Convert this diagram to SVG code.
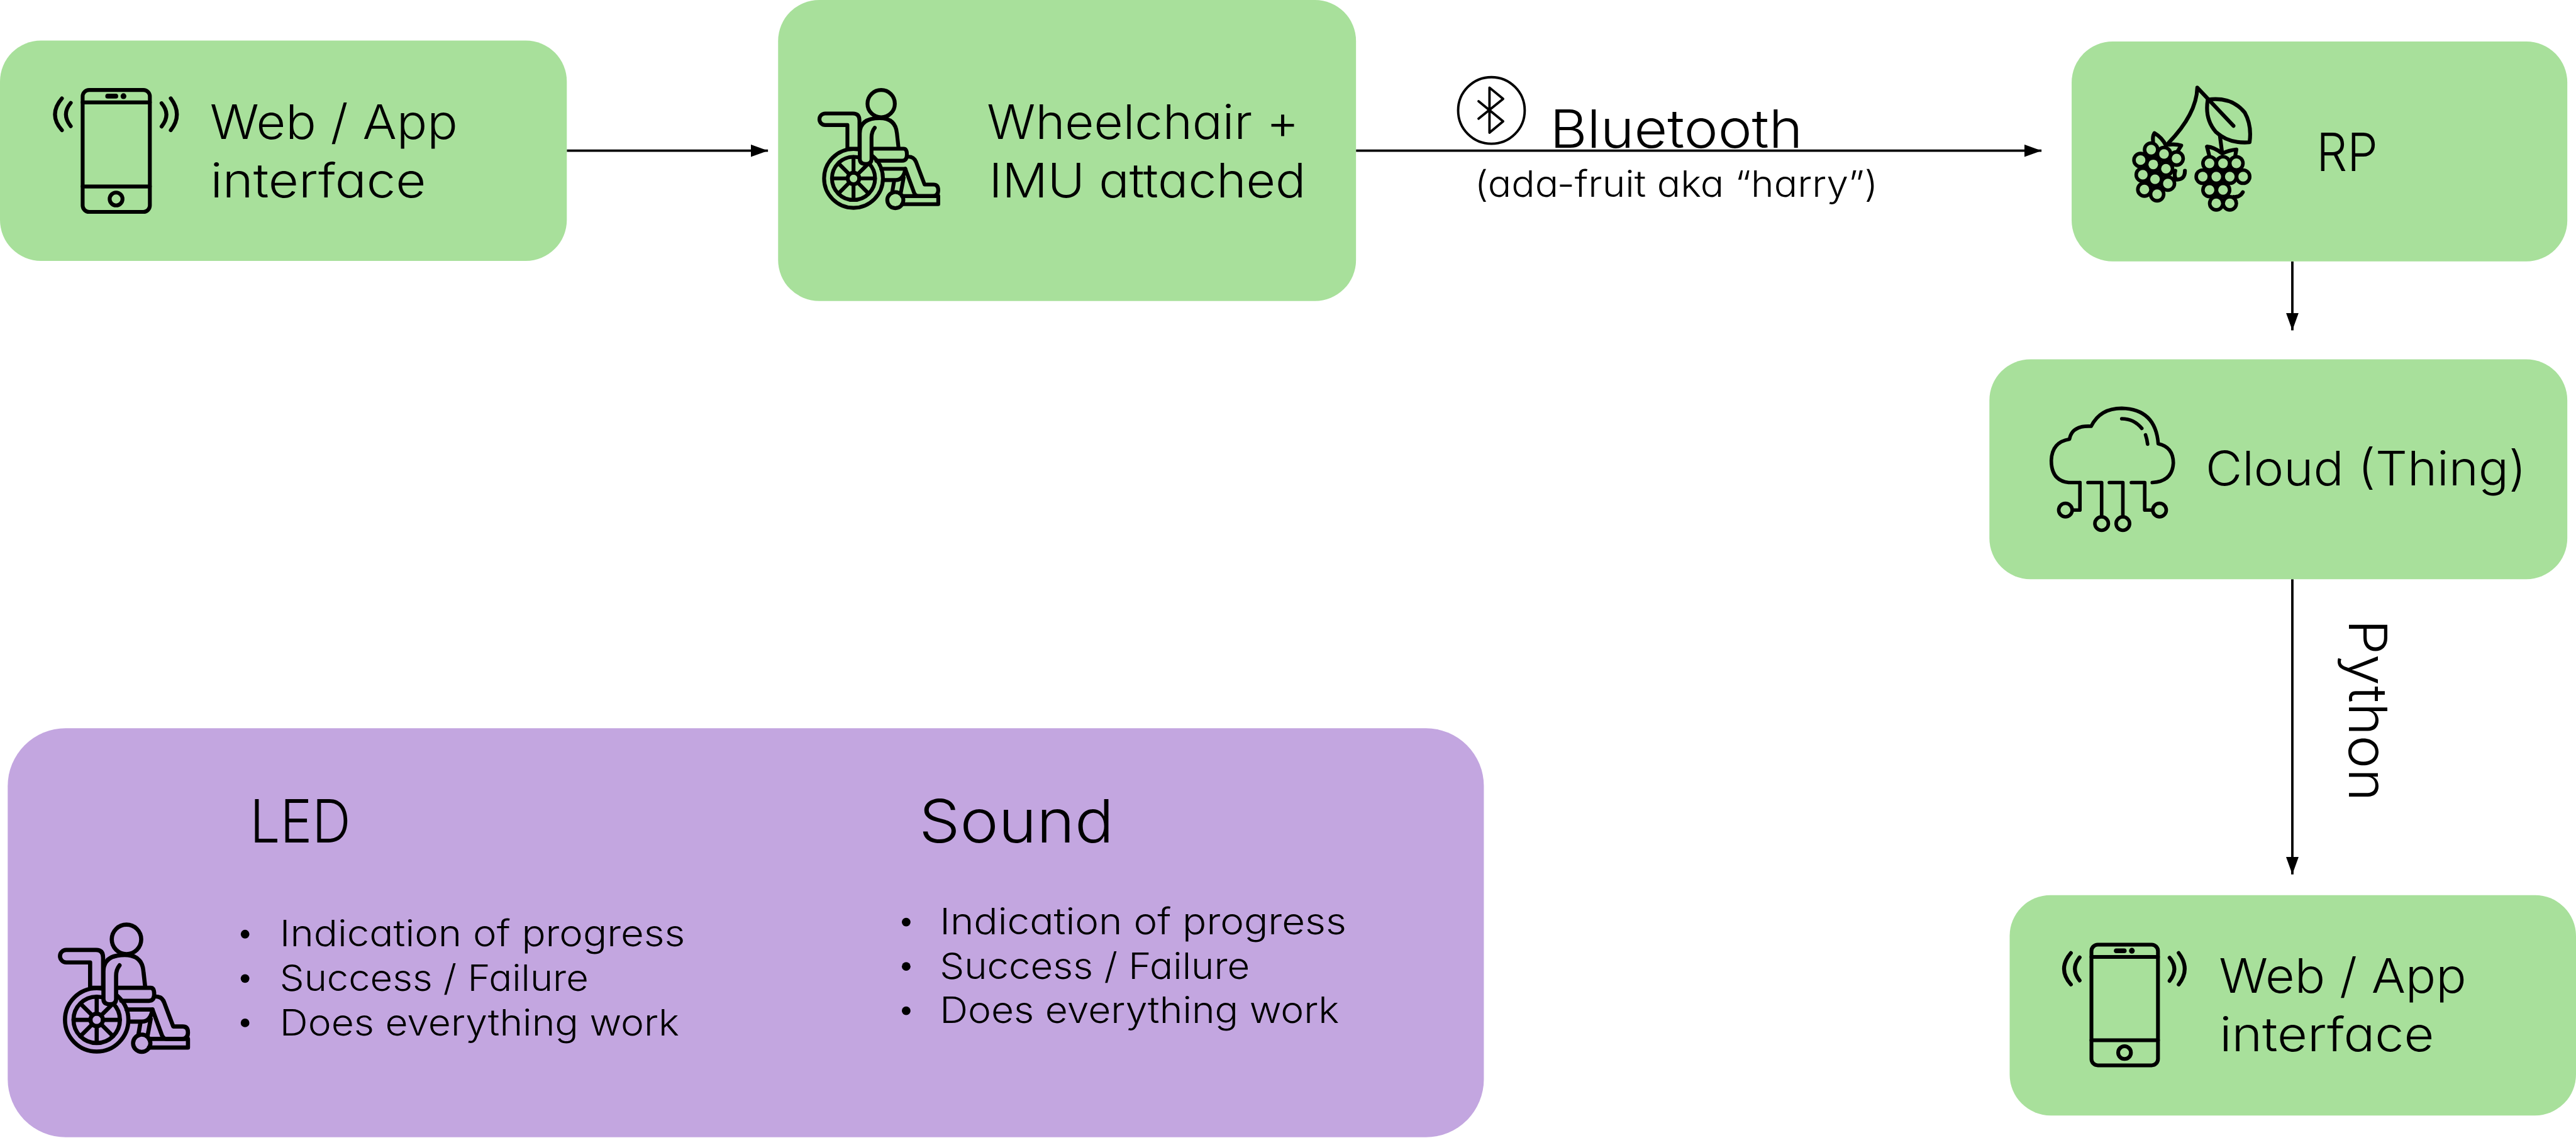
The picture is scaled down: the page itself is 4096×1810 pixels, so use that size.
<svg xmlns="http://www.w3.org/2000/svg" xmlns:xlink="http://www.w3.org/1999/xlink" width="4096" height="1810" viewBox="0 0 4096 1810">
<style>
text{font-family:"Inter","Noto Sans","Liberation Sans",sans-serif;font-weight:300;fill:#000;font-feature-settings:"cv11" 1;}
.green{fill:#A8E09B}
.purple{fill:#C3A6E0}
.t100{font-size:99px}
.t110{font-size:110px}
.t125{font-size:124px}
.t78{font-size:75px}
.ln{fill:none;stroke:#000;stroke-width:5}
.ic{fill:none;stroke:#000;stroke-width:24;stroke-linecap:round;stroke-linejoin:round}
.head{fill:#000;stroke:none}
.blk{fill:#000}
.hole{fill:#A8E09B}
</style>
<defs>
<marker id="arrow" markerUnits="userSpaceOnUse" markerWidth="40" markerHeight="30" refX="36" refY="13" orient="auto"><path d="M0,0L36,13L0,26Z" class="head"/></marker>
<symbol id="phone" overflow="visible" viewBox="0 0 960 900" width="960" height="900">
<rect x="244" y="80" width="418" height="758" rx="40" class="ic"/>
<path d="M244,157H662M244,680H662" class="ic"/>
<path d="M400,118H450" class="ic" style="stroke-width:30"/>
<circle cx="498" cy="118" r="18" class="blk"/>
<circle cx="452" cy="758" r="40" class="ic"/>
<path d="M115,132Q29,232 115,330M170,160Q110,232 170,305M735,162Q795,232 735,307M792,132Q868,232 792,330" class="ic"/>
</symbol>
<symbol id="chair" overflow="visible" viewBox="0 0 960 900" width="960" height="900">
<circle cx="500" cy="165" r="85" class="ic"/>
<path d="M290,445V298H152A36,36 0 0 1 152,226H325Q365,226 365,270V445" class="ic"/>
<circle cx="328" cy="630" r="183" class="ic"/>
<circle cx="328" cy="630" r="134" class="ic"/>
<circle cx="328" cy="630" r="36" class="ic"/>
<path d="M195,630H292M364,630H461M328,497V594M328,666V763M234,536L302,604M354,656L422,724M422,536L354,604M302,656L234,724" class="ic"/>
<path d="M290,445H640Q660,445 660,482Q660,520 630,520H470" class="ic"/>
<path d="M500,570H650Q640,640 590,640H520M580,650L568,720M640,625L622,720" class="ic"/>
<path d="M670,495Q705,495 718,530L770,668H825Q855,668 855,703Q855,740 820,740H730Q715,740 705,720L650,570" class="ic"/>
<path d="M630,740H855V790H630" class="ic"/>
<circle cx="588" cy="765" r="50" class="ic"/>
<path d="M440,330V510Q440,540 405,540Q367,540 367,510V330Z" style="fill:var(--bg);stroke:none"/>
<path d="M460,315Q440,340 440,375V510Q440,540 405,540Q367,540 367,510V350Q367,255 490,255Q590,255 598,350L608,440" class="ic"/>
</symbol>
</defs>
<g transform="scale(0.76704)">
<g id="connectors">
<line x1="1175" y1="312.5" x2="1592" y2="312.5" class="ln" marker-end="url(#arrow)"/>
<line x1="2811" y1="312.5" x2="4232" y2="312.5" class="ln" marker-end="url(#arrow)"/>
<line x1="4752" y1="542" x2="4752" y2="685" class="ln" marker-end="url(#arrow)"/>
<line x1="4752" y1="1201" x2="4752" y2="1813" class="ln" marker-end="url(#arrow)"/>
<text x="3213" y="306.7" class="t110" textLength="524" lengthAdjust="spacingAndGlyphs">Bluetooth</text>
<text x="3057" y="407.7" class="t78" textLength="836" lengthAdjust="spacingAndGlyphs">(ada-fruit aka “harry”)</text>
<text x="4869" y="1284.5" transform="rotate(90 4869 1284.5)" class="t110" textLength="377" lengthAdjust="spacingAndGlyphs">Python</text>
<g id="bluetooth-icon">
<circle cx="3091.7" cy="229" r="69" class="ln"/>
<path d="M3065,210L3116,251.7L3087.7,275V181.7L3116,205L3065,246" class="ln" style="stroke-linecap:round;stroke-linejoin:round"/>
</g>
</g>
<g id="web-top">
<rect x="0" y="84" width="1175" height="457" rx="85" class="green"/>
<use href="#phone" transform="translate(90,160) scale(0.3333)"/>
<text x="435" y="287.5" class="t100" textLength="514" lengthAdjust="spacingAndGlyphs">Web / App</text>
<text x="436" y="409" class="t100" textLength="447" lengthAdjust="spacingAndGlyphs">interface</text>
</g>
<g id="wheelchair" style="--bg:#A8E09B">
<rect x="1613" y="0" width="1198" height="624" rx="85" class="green"/>
<use href="#chair" transform="translate(1660,160) scale(0.3333)"/>
<text x="2046" y="287.5" class="t100" textLength="647" lengthAdjust="spacingAndGlyphs">Wheelchair +</text>
<text x="2050" y="409" class="t100" textLength="657" lengthAdjust="spacingAndGlyphs">IMU attached</text>
</g>
<g id="rp">
<rect x="4294.5" y="86" width="1027.5" height="456" rx="85" class="green"/>
<g transform="translate(4380,160) scale(0.3333)">
<path class="ic" d="M345,410Q520,230 525,65L750,303"/>
<path class="ic" d="M590,140Q740,120 820,220Q865,300 850,405Q720,415 640,340Q570,260 590,140"/>
<path class="ic" d="M665,360L678,460"/>
<path class="ic" d="M250,400Q245,370 258,348Q305,375 330,425M345,420Q390,415 425,425L400,465"/>
<path class="ic" d="M600,490L585,432Q630,435 680,475Q720,455 768,450L760,495"/>
<g class="blk">
<circle cx="238" cy="451" r="52"/><circle cx="172" cy="516" r="52"/><circle cx="318" cy="478" r="52"/><circle cx="396" cy="506" r="52"/><circle cx="251" cy="543" r="52"/><circle cx="330" cy="570" r="52"/><circle cx="186" cy="607" r="52"/><circle cx="262" cy="635" r="52"/><circle cx="342" cy="662" r="52"/><circle cx="196" cy="699" r="52"/><circle cx="275" cy="728" r="52"/>
<circle cx="601" cy="536" r="52"/><circle cx="685" cy="536" r="52"/><circle cx="768" cy="536" r="52"/><circle cx="559" cy="619" r="52"/><circle cx="643" cy="619" r="52"/><circle cx="727" cy="619" r="52"/><circle cx="810" cy="619" r="52"/><circle cx="601" cy="702" r="52"/><circle cx="685" cy="702" r="52"/><circle cx="643" cy="785" r="52"/><circle cx="727" cy="785" r="52"/>
</g>
<g class="hole">
<circle cx="238" cy="451" r="30"/><circle cx="172" cy="516" r="30"/><circle cx="318" cy="478" r="30"/><circle cx="396" cy="506" r="30"/><circle cx="251" cy="543" r="30"/><circle cx="330" cy="570" r="30"/><circle cx="186" cy="607" r="30"/><circle cx="262" cy="635" r="30"/><circle cx="342" cy="662" r="30"/><circle cx="196" cy="699" r="30"/><circle cx="275" cy="728" r="30"/>
<circle cx="601" cy="536" r="30"/><circle cx="685" cy="536" r="30"/><circle cx="768" cy="536" r="30"/><circle cx="559" cy="619" r="30"/><circle cx="643" cy="619" r="30"/><circle cx="727" cy="619" r="30"/><circle cx="810" cy="619" r="30"/><circle cx="601" cy="702" r="30"/><circle cx="685" cy="702" r="30"/><circle cx="643" cy="785" r="30"/><circle cx="727" cy="785" r="30"/>
<circle cx="418" cy="600" r="36"/><circle cx="775" cy="705" r="36"/>
</g>
<path class="ic" d="M448,582Q448,640 395,637Q378,620 388,582M808,716Q790,748 752,745"/>
</g>
<text x="4802" y="354.6" class="t110" textLength="127" lengthAdjust="spacingAndGlyphs">RP</text>
</g>
<g id="cloud">
<rect x="4124" y="745" width="1198" height="456" rx="85" class="green"/>
<g transform="translate(4220,820) scale(0.3333)">
<path class="ic" style="stroke-width:22" d="M275,542H205Q97,530 97,405Q100,290 210,272Q225,185 345,192Q400,80 535,80Q745,85 762,300Q855,320 856,420Q850,535 725,542"/>
<path class="ic" style="stroke-width:22" d="M275,542V713H235M325,542H410V750M458,542H542V750M595,542H678V713H722M535,145Q610,145 660,205M683,245Q692,270 696,303"/>
<circle cx="185" cy="713" r="42" class="ic" style="stroke-width:22"/>
<circle cx="410" cy="797" r="42" class="ic" style="stroke-width:22"/>
<circle cx="542" cy="797" r="42" class="ic" style="stroke-width:22"/>
<circle cx="770" cy="713" r="42" class="ic" style="stroke-width:22"/>
</g>
<text x="4572" y="1006.6" class="t100" textLength="665" lengthAdjust="spacingAndGlyphs">Cloud (Thing)</text>
</g>
<g id="web-bottom">
<rect x="4166" y="1856" width="1174" height="457" rx="85" class="green"/>
<use href="#phone" transform="translate(4255,1932.5) scale(0.33)"/>
<text x="4600" y="2059" class="t100" textLength="513" lengthAdjust="spacingAndGlyphs">Web / App</text>
<text x="4601" y="2179.5" class="t100" textLength="445" lengthAdjust="spacingAndGlyphs">interface</text>
</g>
<g id="feedback" style="--bg:#C3A6E0">
<rect x="16" y="1510" width="3060" height="848" rx="120" class="purple"/>
<use href="#chair" transform="translate(82.7,1888.6) scale(0.359)"/>
<text x="518" y="1746.6" class="t125" textLength="209" lengthAdjust="spacingAndGlyphs">LED</text>
<text x="1905" y="1746.6" class="t125" textLength="404" lengthAdjust="spacingAndGlyphs">Sound</text>
<circle cx="508" cy="1937" r="9" class="blk"/><circle cx="508" cy="2029" r="9" class="blk"/><circle cx="508" cy="2121" r="9" class="blk"/>
<text x="580" y="1962.6" class="t78" textLength="840" lengthAdjust="spacingAndGlyphs">Indication of progress</text>
<text x="580" y="2054.6" class="t78" textLength="640" lengthAdjust="spacingAndGlyphs">Success / Failure</text>
<text x="580" y="2146.6" class="t78" textLength="828" lengthAdjust="spacingAndGlyphs">Does everything work</text>
<circle cx="1878.5" cy="1912" r="9" class="blk"/><circle cx="1878.5" cy="2004" r="9" class="blk"/><circle cx="1878.5" cy="2096" r="9" class="blk"/>
<text x="1948" y="1937.4" class="t78" textLength="843" lengthAdjust="spacingAndGlyphs">Indication of progress</text>
<text x="1948" y="2029.4" class="t78" textLength="643" lengthAdjust="spacingAndGlyphs">Success / Failure</text>
<text x="1948" y="2121.4" class="t78" textLength="828" lengthAdjust="spacingAndGlyphs">Does everything work</text>
</g>
</g>
</svg>
